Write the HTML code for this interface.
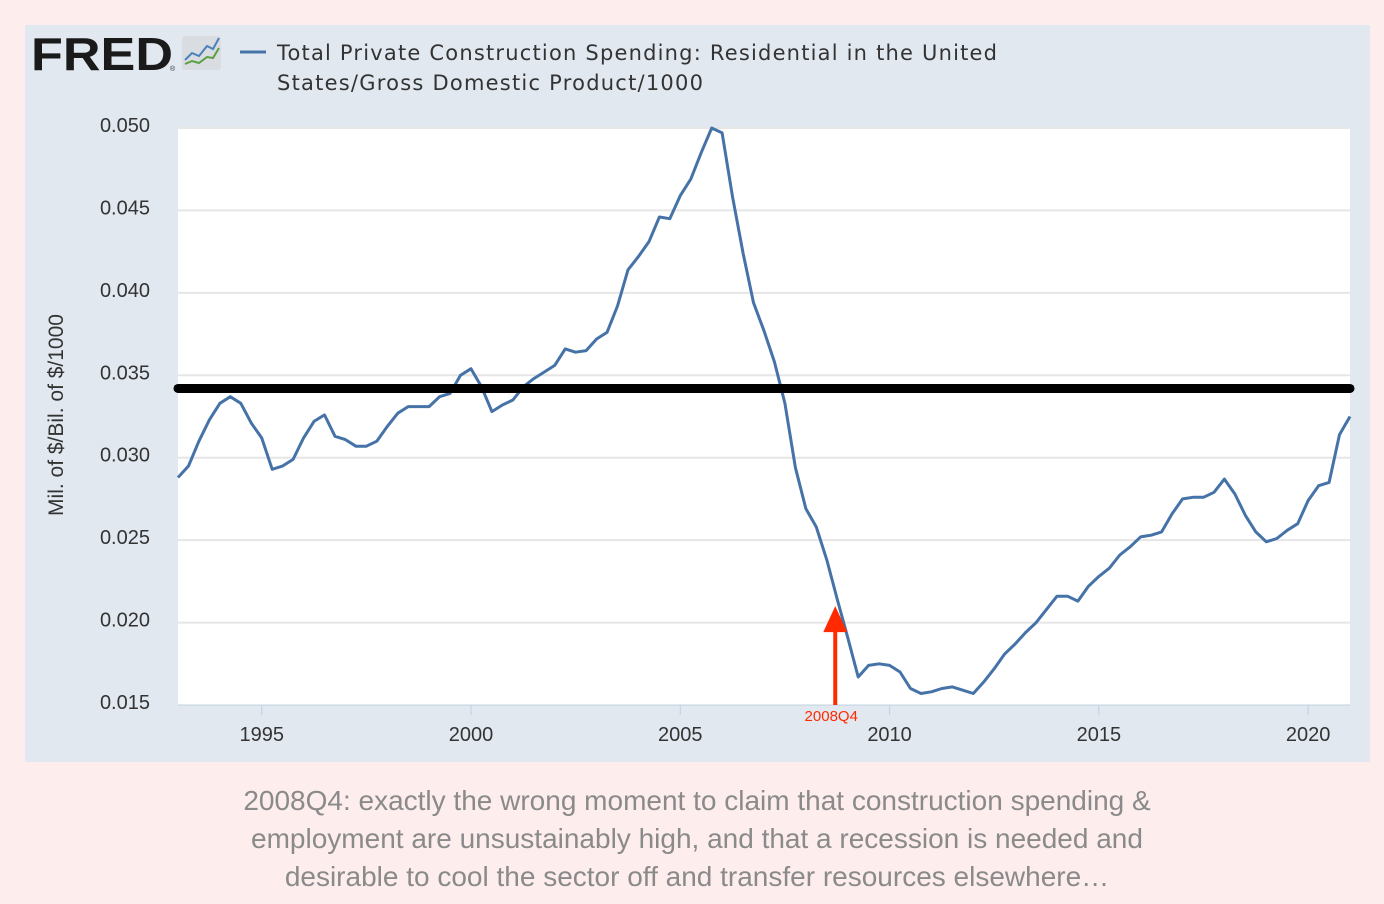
<!DOCTYPE html>
<html><head><meta charset="utf-8"><style>
body{margin:0;width:1384px;height:904px;background:#fdeded;font-family:"Liberation Sans",sans-serif;overflow:hidden}
</style></head><body>
<svg id="chart" width="1384" height="904" xmlns="http://www.w3.org/2000/svg" style="position:absolute;left:0;top:0">
<rect x="25" y="25" width="1345" height="737" fill="#e1e8f0"/>
<rect x="178" y="128" width="1172" height="577" fill="#ffffff"/>
<g>
<text x="31" y="70" font-size="46" font-weight="bold" fill="#1a1a1a" textLength="142" lengthAdjust="spacingAndGlyphs">FRED</text>
<text x="170" y="71" font-size="7" fill="#333">®</text>
<rect x="182" y="36" width="39" height="34" rx="3" fill="#d9dde2"/>
<polyline points="185,60 192,53 199,56 207,46 213,49 219,38" fill="none" stroke="#4a82b8" stroke-width="2"/>
<polyline points="185,64 192,61 199,63 207,57 213,58 219,48" fill="none" stroke="#5aa040" stroke-width="2"/>
</g>
<line x1="240" y1="52" x2="266" y2="52" stroke="#4572a7" stroke-width="3"/>
<text fill="#333" font-family="DejaVu Sans,sans-serif" style="font-size:21px"><tspan x="277" y="60" textLength="720">Total Private Construction Spending: Residential in the United</tspan><tspan x="277" y="90" textLength="426">States/Gross Domestic Product/1000</tspan></text>
<text transform="translate(63,415) rotate(-90)" text-anchor="middle" font-size="21" fill="#333">Mil. of $/Bil. of $/1000</text>
<g id="grid"></g><g id="yticks"></g><g id="xticks"></g>
<line x1="178" y1="705" x2="1350" y2="705" stroke="#c0d0e0" stroke-width="1"/>
<path id="series" fill="none" stroke="#4572a7" stroke-width="3" stroke-linejoin="round"/>
<line id="refline" stroke="#000" stroke-width="9" stroke-linecap="round"/>
<g>
<rect id="arrowshaft" x="835" width="4" fill="#ff2a00"/>
<polygon id="arrowhead" fill="#ff2a00"/>
<text id="arrowlabel" text-anchor="middle" font-size="15" fill="#ff2a00">2008Q4</text>
</g>
</svg>
<div style="position:absolute;left:0;top:782px;width:1394px;text-align:center;color:#8a8a8a;font-size:28px;line-height:38px;font-family:'Liberation Sans',sans-serif">2008Q4: exactly the wrong moment to claim that construction spending &amp;<br>employment are unsustainably high, and that a recession is needed and<br>desirable to cool the sector off and transfer resources elsewhere…</div>
<script>
const startYear = 1993;
const values = [.0288,.0295,.0310,.0323,.0333,.0337,.0333,.0321,.0312,.0293,.0295,.0299,.0312,.0322,.0326,.0313,.0311,.0307,.0307,.0310,.0319,.0327,.0331,.0331,.0331,.0337,.0339,.0350,.0354,.0343,.0328,.0332,.0335,.0343,.0348,.0352,.0356,.0366,.0364,.0365,.0372,.0376,.0392,.0414,.0422,.0431,.0446,.0445,.0459,.0469,.0485,.0500,.0497,.0458,.0424,.0394,.0377,.0358,.0333,.0294,.0269,.0258,.0238,.0214,.0191,.0167,.0174,.0175,.0174,.0170,.0160,.0157,.0158,.0160,.0161,.0159,.0157,.0164,.0172,.0181,.0187,.0194,.0200,.0208,.0216,.0216,.0213,.0222,.0228,.0233,.0241,.0246,.0252,.0253,.0255,.0266,.0275,.0276,.0276,.0279,.0287,.0278,.0265,.0255,.0249,.0251,.0256,.0260,.0274,.0283,.0285,.0314,.0325];
const yTicks = ["0.015","0.020","0.025","0.030","0.035","0.040","0.045","0.050"];
const xTicks = [1995,2000,2005,2010,2015,2020];
const refValue = 0.0342;
const annotationTime = 2008.75;
const annotationValue = 0.0210;
const NS="http://www.w3.org/2000/svg";
const x0=178,x1=1350,y0=705,y1=128;
const xS=t=>x0+(t-startYear)/28*(x1-x0);
const yS=v=>y0-(v-0.015)/0.035*(y0-y1);
const grid=document.getElementById('grid'),yt=document.getElementById('yticks'),xt=document.getElementById('xticks');
yTicks.forEach(l=>{const y=yS(+l);
 if(+l>0.015){const g=document.createElementNS(NS,'line');
 
 
 g.setAttribute('x1',x0);g.setAttribute('x2',x1);g.setAttribute('y1',y);g.setAttribute('y2',y);g.setAttribute('stroke','#e6e6e6');g.setAttribute('stroke-width','2');grid.appendChild(g);}
 const t=document.createElementNS(NS,'text');
 
 
 t.setAttribute('x',150);t.setAttribute('y',y+4);t.setAttribute('text-anchor','end');t.setAttribute('font-size','20');t.setAttribute('fill','#333');t.textContent=l;yt.appendChild(t);});
xTicks.forEach(yr=>{const x=xS(yr);
 const m=document.createElementNS(NS,'line');
 
 
 m.setAttribute('x1',x);m.setAttribute('x2',x);m.setAttribute('y1',705);m.setAttribute('y2',715);m.setAttribute('stroke','#c0d0e0');xt.appendChild(m);
 const t=document.createElementNS(NS,'text');
 
 
 t.setAttribute('x',x);t.setAttribute('y',741);t.setAttribute('text-anchor','middle');t.setAttribute('font-size','20');t.setAttribute('fill','#333');t.textContent=yr;xt.appendChild(t);});
document.getElementById('series').setAttribute('d',values.map((v,i)=>(i?'L':'M')+xS(startYear+i/4).toFixed(1)+','+yS(v).toFixed(1)).join(''));
const rl=document.getElementById('refline');
rl.setAttribute('x1',x0);rl.setAttribute('x2',x1);rl.setAttribute('y1',yS(refValue));rl.setAttribute('y2',yS(refValue));
const ax=xS(annotationTime)-2,ay=yS(annotationValue);
const sh=document.getElementById('arrowshaft');sh.setAttribute('x',ax-2);sh.setAttribute('y',ay+20);sh.setAttribute('height',y0-ay-20);
document.getElementById('arrowhead').setAttribute('points',`${ax},${ay} ${ax-12},${ay+26} ${ax+12},${ay+26}`);
const al=document.getElementById('arrowlabel');al.setAttribute('x',ax-4);al.setAttribute('y',721);
</script>
</body></html>
